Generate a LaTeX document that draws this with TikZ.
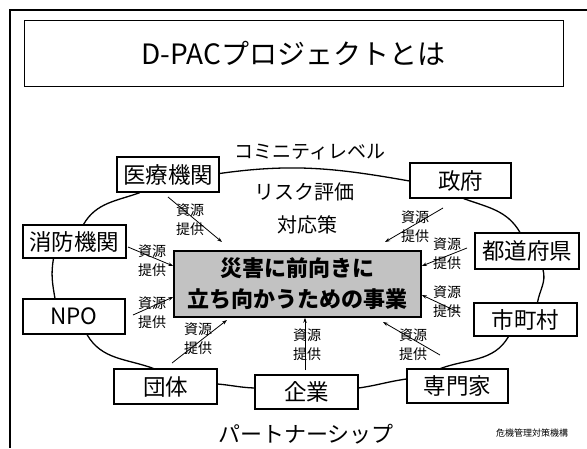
\documentclass[tikz,border=0pt]{standalone}
\usepackage{fontspec}
\setmainfont{Noto Sans CJK JP}
\setsansfont{Noto Sans CJK JP}
\usetikzlibrary{arrows.meta}
\begin{document}
\begin{tikzpicture}[x=1pt,y=-1pt,
  box/.style={draw, line width=1.1pt, inner sep=0pt, font=\fontsize{22.5}{22.5}\selectfont},
  link/.style={line width=1.3pt},
  feed/.style={line width=0.8pt, -{Stealth[length=5pt,width=3.5pt]}},
  lbl/.style={align=center, font=\fontsize{14}{19}\selectfont, inner sep=0pt},
  plain/.style={inner sep=0pt}]
\useasboundingbox (0,0) rectangle (587,448);
\fill[white] (0,0) rectangle (587,448);
% outer frame
\draw[line width=1.6pt] (587,10) -- (10,10) -- (10,448);
% title
\node[draw, line width=1pt, minimum width=539pt, minimum height=66pt, inner sep=0pt,
      font=\fontsize{28}{28}\selectfont] (title) at (293.5,53) {D-PACプロジェクトとは};
% hub
\node[draw, line width=1.6pt, fill=black!24, minimum width=247pt, minimum height=66pt,
      inner sep=0pt, align=center, font=\bfseries\fontsize{22}{31}\selectfont] (hub) at (297.5,284)
      {災害に前向きに\\立ち向かうための事業};
% actors
\node[box, minimum width=102pt, minimum height=35pt] (med) at (168,174.5) {医療機関};
\node[box, minimum width=101pt, minimum height=35pt] (gov) at (460.5,180.5) {政府};
\node[box, minimum width=103pt, minimum height=33pt] (fire) at (74.5,241.5) {消防機関};
\node[box, minimum width=104pt, minimum height=36pt] (pref) at (527,251) {都道府県};
\node[box, minimum width=102pt, minimum height=35pt] (npo) at (74,316.5) {NPO};
\node[box, minimum width=103pt, minimum height=33pt] (muni) at (525.5,319.5) {市町村};
\node[box, minimum width=103pt, minimum height=35pt] (dantai) at (165.5,386.5) {団体};
\node[box, minimum width=103pt, minimum height=34pt] (corp) at (306.5,392) {企業};
\node[box, minimum width=101pt, minimum height=34pt] (expert) at (457.5,386) {専門家};
% ring
\draw[link] ([yshift=1pt]med.east) to[out=8,in=170] ([yshift=-0.5pt]gov.west);
\draw[link] ([xshift=3pt]gov.south) to[out=-20,in=120] ([xshift=-7pt]pref.north);
\draw[link] ([xshift=16pt]pref.south) to[out=-75,in=80] ([xshift=12pt]muni.north);
\draw[link] ([xshift=-17pt]muni.south) to[out=-120,in=20] ([xshift=-17pt]expert.north);
\draw[link] ([yshift=7pt]expert.west) to[out=188,in=8] ([yshift=4pt]corp.west -| corp.east);
\draw[link] ([yshift=4pt]corp.west) to[out=178,in=-5] ([yshift=2.5pt]dantai.east);
\draw[link] ([xshift=-12pt]dantai.north) to[out=160,in=-60] ([xshift=13pt]npo.south);
\draw[link] ([xshift=-19pt]npo.north) to[out=100,in=-100] ([xshift=-21pt]fire.south);
\draw[link] ([xshift=9pt]fire.north) to[out=60,in=-160] ([xshift=-28pt]med.south);
% resource arrows
\coordinate (a1) at (168,197); \coordinate (b1) at (222,242);
\coordinate (a2) at (128,247);
\coordinate (a3) at (133,315);
\coordinate (a4) at (172,363); \coordinate (b4) at (227,320);
\coordinate (a5) at (305,370);
\coordinate (a6) at (440,355); \coordinate (b6) at (383,322);
\coordinate (a7) at (458,312);
\coordinate (a8) at (467,248);
\coordinate (a9) at (443,208); \coordinate (b9) at (385,242);
\draw[feed] (a1) -- (b1);
\draw[feed] (a2) -- ([yshift=18pt]hub.west);
\draw[feed] (a3) -- ([yshift=-13pt]hub.west);
\draw[feed] (a4) -- (b4);
\draw[feed] (a5) -- ([xshift=7.5pt]hub.south);
\draw[feed] (a6) -- (b6);
\draw[feed] (a7) -- ([yshift=-11pt]hub.east);
\draw[feed] (a8) -- ([yshift=18pt]hub.east);
\draw[feed] (a9) -- (b9);
\node[lbl] (l1) at (190,220) {資源\\提供};
\node[lbl] (l2) at (152,261) {資源\\提供};
\node[lbl] (l3) at (152,313) {資源\\提供};
\node[lbl] (l4) at (198,339) {資源\\提供};
\node[lbl] (l5) at (307,345) {資源\\提供};
\node[lbl] (l6) at (413,345) {資源\\提供};
\node[lbl] (l7) at (447,302) {資源\\提供};
\node[lbl] (l8) at (447,254) {資源\\提供};
\node[lbl] (l9) at (415,227) {資源\\提供};
% free texts
\node[plain, font=\fontsize{19}{19}\selectfont] (lvl) at (310,152) {コミニティレベル};
\node[plain, font=\fontsize{20}{20}\selectfont] (risk) at (304,192) {リスク評価};
\node[plain, font=\fontsize{20}{20}\selectfont] (resp) at (307,225) {対応策};
\node[plain, font=\fontsize{22}{22}\selectfont] (part) at (306,434) {パートナーシップ};
\node[plain, font=\fontsize{9}{9}\selectfont] (org) at (532,433) {危機管理対策機構};
\end{tikzpicture}
\end{document}
